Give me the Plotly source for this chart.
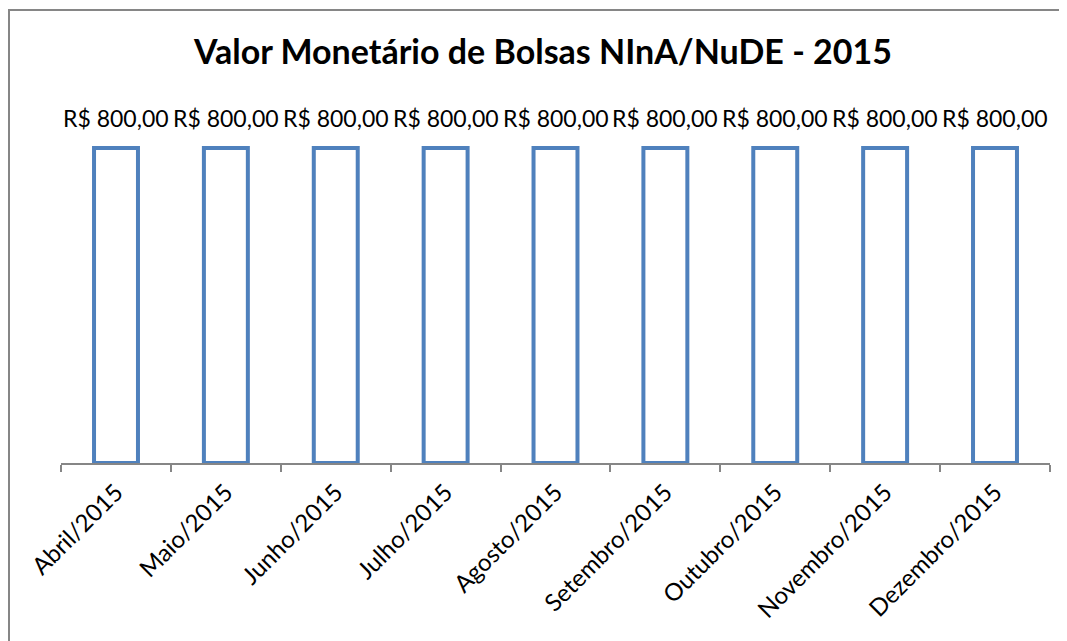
import plotly.graph_objects as go

categories = ["Abril/2015", "Maio/2015", "Junho/2015", "Julho/2015", "Agosto/2015",
              "Setembro/2015", "Outubro/2015", "Novembro/2015", "Dezembro/2015"]
values = [800, 800, 800, 800, 800, 800, 800, 800, 800]
labels = ["R$ 800,00"] * len(values)
title_text = "Valor Monetário de Bolsas NInA/NuDE - 2015"

# page has an 8px body margin; figure coordinates = screen - 8
W, H = 1067, 641
L, R, T, B = 53, 25, 92, 186
axis_y = H - B          # 455 in figure coords
bar_top = 140
ymax = 800 * (axis_y - T) / (axis_y - bar_top)

fig = go.Figure()
fig.add_trace(go.Bar(
    x=categories, y=values,
    marker=dict(color="white", line=dict(color="#4F81BD", width=4)),
    width=0.4,
))
for c, v, t in zip(categories, values, labels):
    fig.add_annotation(x=c, y=v, text=t, showarrow=False, yanchor="bottom",
                       yshift=14, font=dict(family="Lato", size=23, color="black"))

pw = W - L - R
ph = H - T - B
fig.add_shape(type="rect", xref="paper", yref="paper",
              x0=(1 - L) / pw, x1=(1100 - L) / pw,
              y0=(axis_y - 700) / ph, y1=(axis_y - 2) / ph,
              line=dict(color="#868686", width=2), fillcolor="rgba(0,0,0,0)", layer="below")

fig.update_layout(
    width=W, height=H,
    margin=dict(l=L, r=R, t=T, b=B),
    paper_bgcolor="white", plot_bgcolor="white",
    title=dict(text="<b>" + title_text + "</b>", x=(535) / W, xanchor="center",
               y=(H - 44) / H, yanchor="middle",
               font=dict(family="Lato", size=34, color="black")),
    showlegend=False,
    xaxis=dict(showline=True, linecolor="#868686", linewidth=1.5,
               ticks="outside", ticklen=7, tickcolor="#868686", tickwidth=1.5,
               tickson="boundaries", tickangle=-45, ticklabelstandoff=4,
               tickfont=dict(family="Lato", size=24, color="black"),
               showgrid=False),
    yaxis=dict(visible=False, range=[0, ymax], showgrid=False),
)

fig.write_html("out.html")
